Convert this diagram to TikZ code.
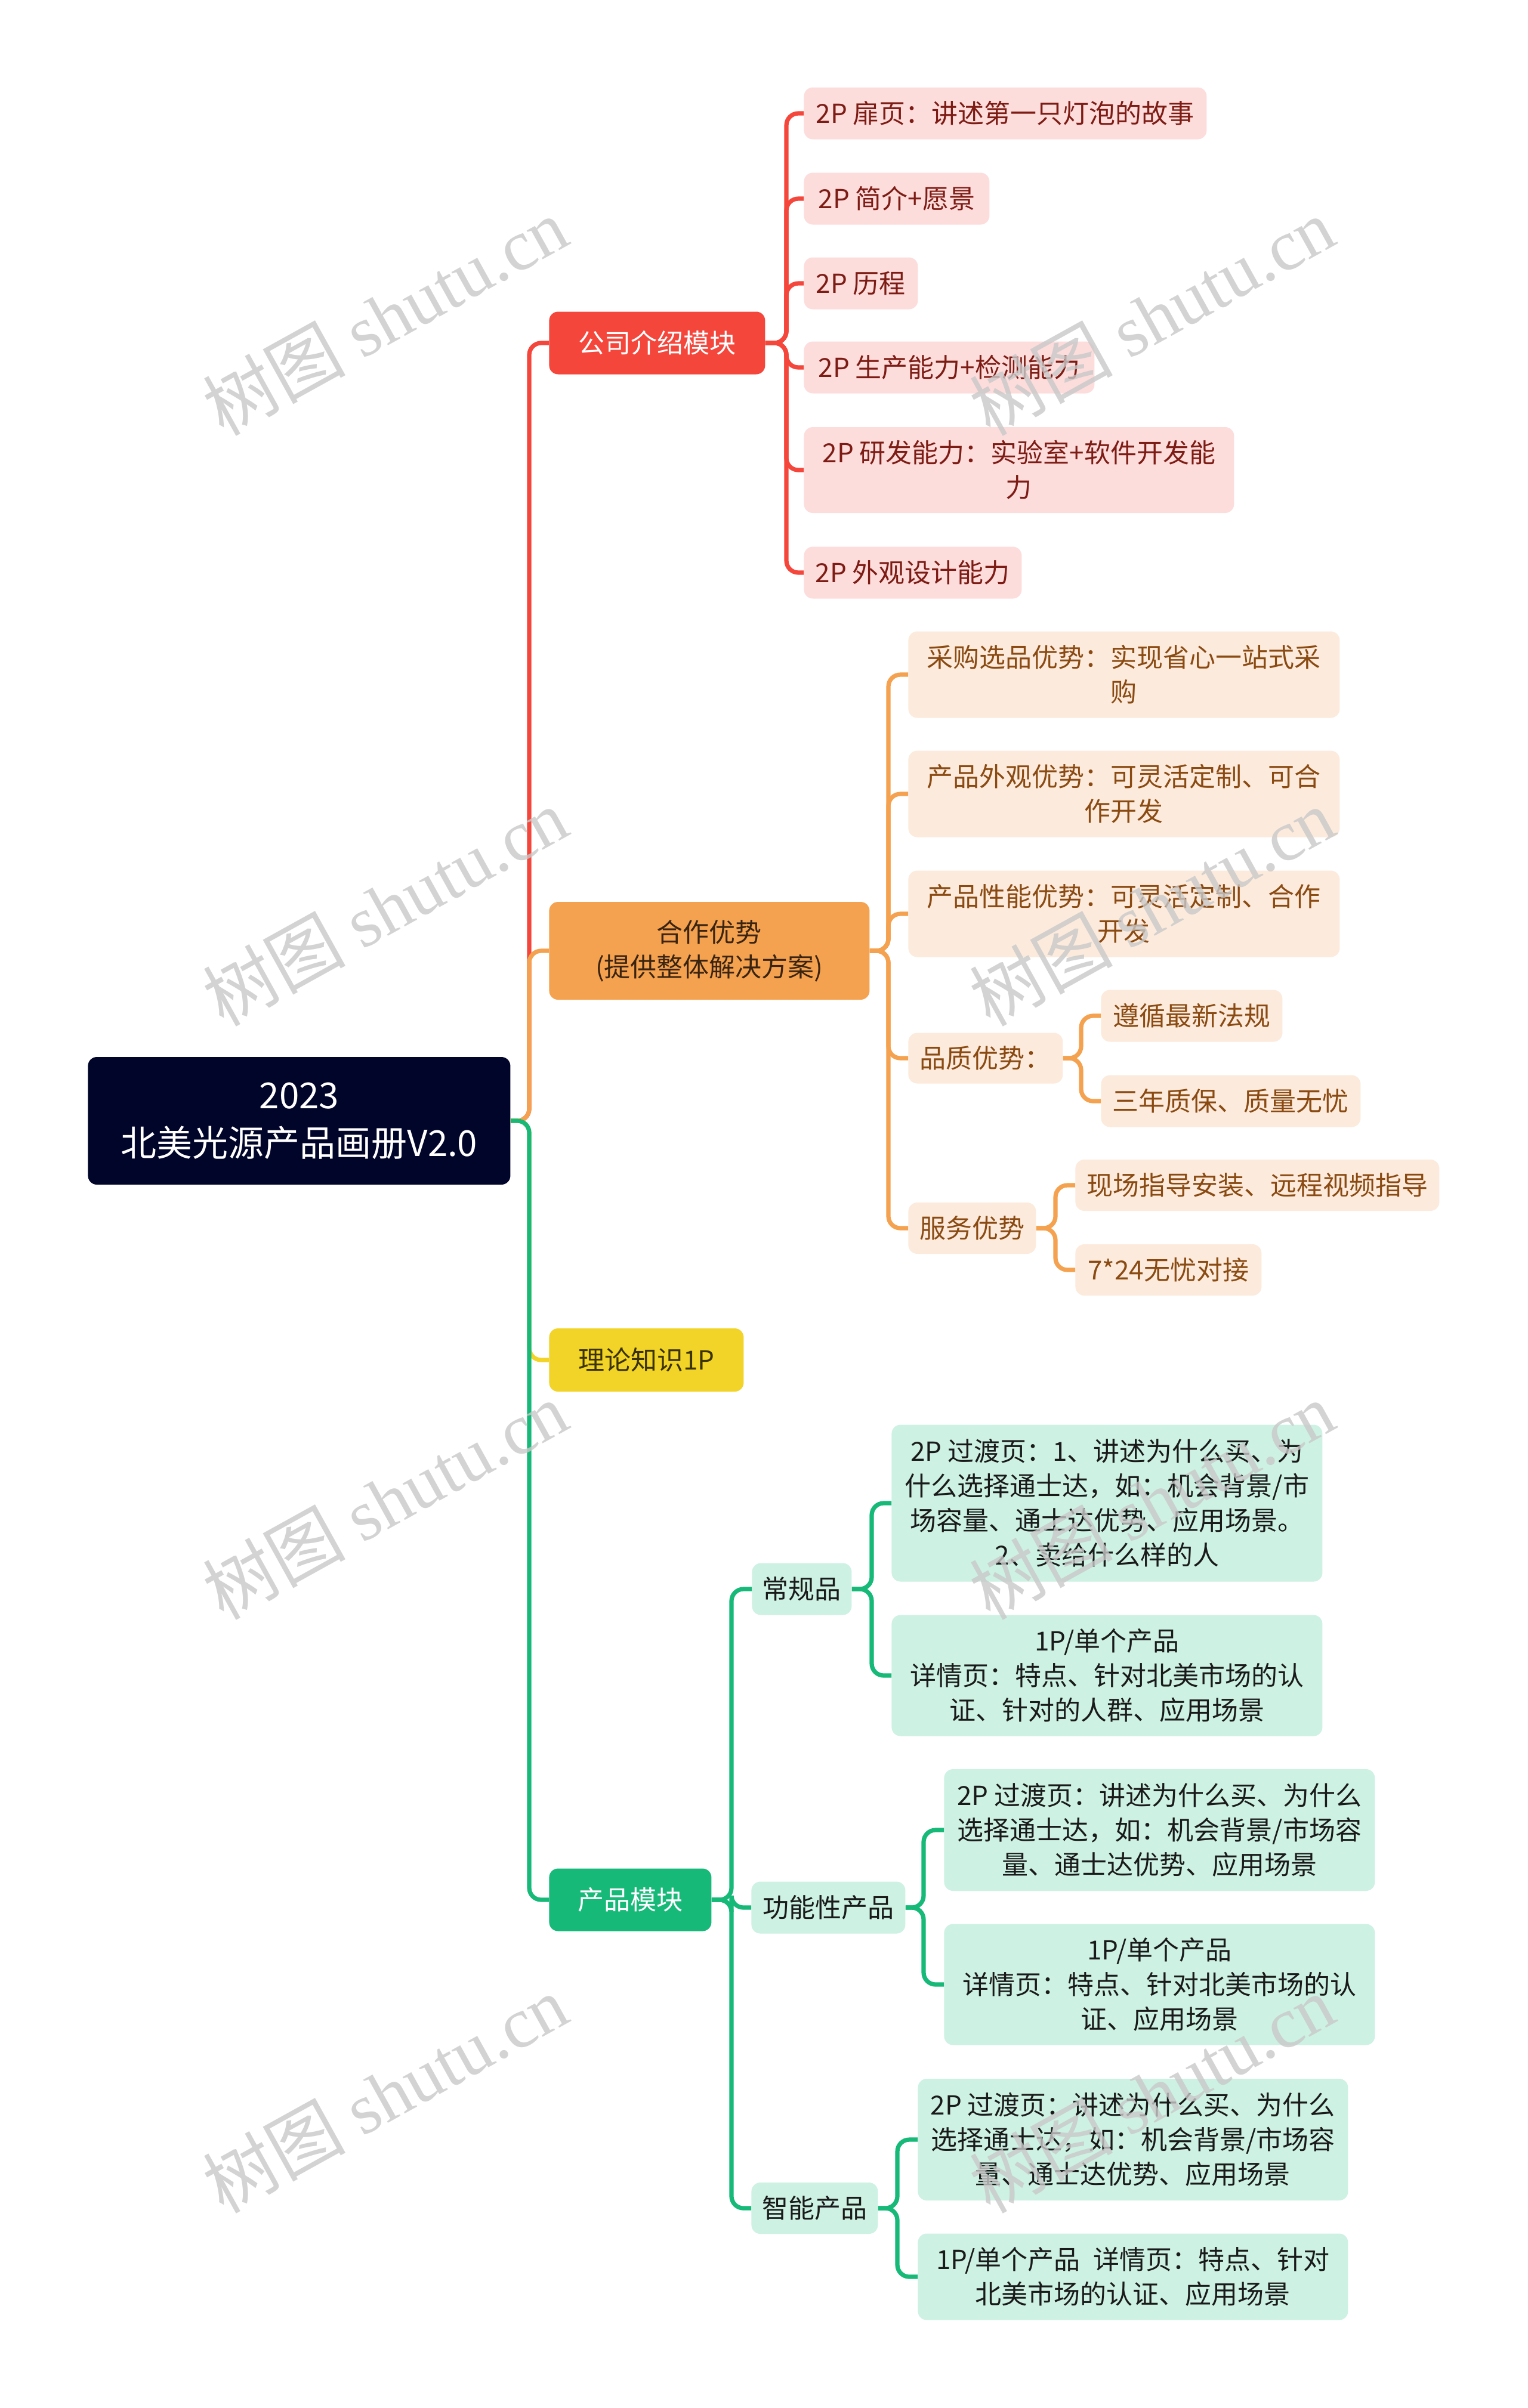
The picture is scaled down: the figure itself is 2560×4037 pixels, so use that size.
\documentclass[tikz,border=0pt]{standalone}
\usepackage{fontspec}
\setmainfont{Noto Sans CJK SC}
\newfontfamily\wmlatin{Liberation Serif}
\definecolor{rootbg}{HTML}{02052A}
\definecolor{cRed}{HTML}{F5463C}
\definecolor{cRedL}{HTML}{FDDCDC}
\definecolor{cRedT}{HTML}{7D1C14}
\definecolor{cOr}{HTML}{F4A24F}
\definecolor{cOrL}{HTML}{FCEBDC}
\definecolor{cOrT}{HTML}{8A4A12}
\definecolor{cOrDark}{HTML}{3A2410}
\definecolor{cYel}{HTML}{F2D327}
\definecolor{cYelT}{HTML}{3A3300}
\definecolor{cGr}{HTML}{17B978}
\definecolor{cGrL}{HTML}{CDF1E3}
\definecolor{cGrT}{HTML}{1A1A1A}
\definecolor{wmc}{RGB}{200,200,200}
\begin{document}
\begin{tikzpicture}[x=0.5pt,y=-0.5pt,
  box/.style={rounded corners=7.5pt, inner sep=0pt, align=center, anchor=west,
    font=\fontsize{22pt}{29pt}\selectfont},
  rootbox/.style={box, fill=rootbg, text=white, font=\fontsize{30pt}{40pt}\selectfont,
    minimum width=354pt, minimum height=107pt},
  redmain/.style={box, fill=cRed, text=white},
  redsub/.style={box, fill=cRedL, text=cRedT, minimum height=43.5pt},
  ormain/.style={box, fill=cOr, text=cOrDark},
  orsub/.style={box, fill=cOrL, text=cOrT, minimum height=43.5pt},
  yelmain/.style={box, fill=cYel, text=cYelT},
  grmain/.style={box, fill=cGr, text=white},
  grsub/.style={box, fill=cGrL, text=cGrT, minimum height=43.5pt},
  conn/.style={line width=3.6pt, rounded corners=10pt},
  wmark/.style={text=wmc, opacity=0.8, font=\fontsize{60pt}{60pt}\selectfont, rotate=29}
]
\useasboundingbox (0,0) rectangle (2560,4037);
\fill[white] (0,0) rectangle (2560,4037);

% root
\node[rootbox] (root) at (147,1879) {2023\\北美光源产品画册V2.0};

% level 1
\node[redmain, minimum width=181pt, minimum height=52.5pt] (a) at (920,575) {公司介绍模块};
\node[ormain, minimum width=268.5pt, minimum height=82pt] (b) at (920,1594) {合作优势\\(提供整体解决方案)};
\node[yelmain, minimum width=163pt, minimum height=53pt] (c) at (920,2280) {理论知识1P};
\node[grmain, minimum width=136pt, minimum height=52.5pt] (d) at (920,3185) {产品模块};

% red children
\node[redsub, minimum width=337.5pt] (a1) at (1347,190) {2P 扉页：讲述第一只灯泡的故事};
\node[redsub, minimum width=155.5pt] (a2) at (1347,333) {2P 简介+愿景};
\node[redsub, minimum width=95.5pt] (a3) at (1347,475) {2P 历程};
\node[redsub, minimum width=243.5pt] (a4) at (1347,616) {2P 生产能力+检测能力};
\node[redsub, minimum width=360.5pt, minimum height=72pt] (a5) at (1347,788) {2P 研发能力：实验室+软件开发能\\力};
\node[redsub, minimum width=182.5pt] (a6) at (1347,960) {2P 外观设计能力};

% orange children
\node[orsub, minimum width=361.5pt, minimum height=72.5pt] (b1) at (1522,1131) {采购选品优势：实现省心一站式采\\购};
\node[orsub, minimum width=361.5pt, minimum height=72.5pt] (b2) at (1522,1331) {产品外观优势：可灵活定制、可合\\作开发};
\node[orsub, minimum width=361.5pt, minimum height=72.5pt] (b3) at (1522,1532) {产品性能优势：可灵活定制、合作\\开发};
\node[orsub, minimum width=129.5pt, minimum height=42.5pt] (b4) at (1522,1774) {品质优势：};
\node[orsub, minimum width=152pt] (b41) at (1845,1703) {遵循最新法规};
\node[orsub, minimum width=217.5pt] (b42) at (1845,1846) {三年质保、质量无忧};
\node[orsub, minimum width=107pt, minimum height=43pt] (b5) at (1522,2059) {服务优势};
\node[orsub, minimum width=305pt, minimum height=43pt] (b51) at (1802,1987) {现场指导安装、远程视频指导};
\node[orsub, minimum width=156pt, minimum height=43pt] (b52) at (1802,2129) {7*24无忧对接};

% green children
\node[grsub, minimum width=83.5pt] (d1) at (1260,2664) {常规品};
\node[grsub, minimum width=361pt, minimum height=131.5pt] (d11) at (1494,2520) {2P 过渡页：1、讲述为什么买、为\\什么选择通士达，如：机会背景/市\\场容量、通士达优势、应用场景。\\2、卖给什么样的人};
\node[grsub, minimum width=361pt, minimum height=101.5pt] (d12) at (1494,2809) {1P/单个产品\\详情页：特点、针对北美市场的认\\证、针对的人群、应用场景};
\node[grsub, minimum width=129pt] (d2) at (1259,3198) {功能性产品};
\node[grsub, minimum width=361pt, minimum height=102pt] (d21) at (1582,3068) {2P 过渡页：讲述为什么买、为什么\\选择通士达，如：机会背景/市场容\\量、通士达优势、应用场景};
\node[grsub, minimum width=361pt, minimum height=101.5pt] (d22) at (1582,3327) {1P/单个产品\\详情页：特点、针对北美市场的认\\证、应用场景};
\node[grsub, minimum width=106pt, minimum height=43pt] (d3) at (1259,3702) {智能产品};
\node[grsub, minimum width=360.5pt, minimum height=102pt] (d31) at (1538,3587) {2P 过渡页：讲述为什么买、为什么\\选择通士达，如：机会背景/市场容\\量、通士达优势、应用场景};
\node[grsub, minimum width=360.5pt, minimum height=72.5pt] (d32) at (1538,3817) {1P/单个产品\hspace{0.5em}详情页：特点、针对\\北美市场的认证、应用场景};

% connectors root -> level 1
\draw[conn, cRed] (root.east) -- (887,1879) -- (887,575) -- (a.west);
\draw[conn, cOr] (root.east) -- (887,1879) -- (887,1594) -- (b.west);
\draw[conn, cYel] (root.east) -- (887,1879) -- (887,2280) -- (c.west);
\draw[conn, cGr] (root.east) -- (887,1879) -- (887,3185) -- (d.west);

% red
\foreach \n/\y in {a1/190,a2/333,a3/475,a4/616,a5/788,a6/960}
  \draw[conn, cRed] (a.east) -- (1318,575) -- (1318,\y) -- (\n.west);
% orange
\foreach \n/\y in {b1/1131,b2/1331,b3/1532,b4/1774,b5/2059}
  \draw[conn, cOr] (b.east) -- (1489,1594) -- (1489,\y) -- (\n.west);
\foreach \n/\y in {b41/1703,b42/1846}
  \draw[conn, cOr] (b4.east) -- (1812,1774) -- (1812,\y) -- (\n.west);
\foreach \n/\y in {b51/1987,b52/2129}
  \draw[conn, cOr] (b5.east) -- (1769,2059) -- (1769,\y) -- (\n.west);
% green
\foreach \n/\y in {d1/2664,d2/3198,d3/3702}
  \draw[conn, cGr] (d.east) -- (1226,3185) -- (1226,\y) -- (\n.west);
\foreach \n/\y in {d11/2520,d12/2809}
  \draw[conn, cGr] (d1.east) -- (1461,2664) -- (1461,\y) -- (\n.west);
\foreach \n/\y in {d21/3068,d22/3327}
  \draw[conn, cGr] (d2.east) -- (1548,3198) -- (1548,\y) -- (\n.west);
\foreach \n/\y in {d31/3587,d32/3817}
  \draw[conn, cGr] (d3.east) -- (1504,3702) -- (1504,\y) -- (\n.west);

% watermarks
\foreach \i/\x/\y in {1/645/530,2/1930/530,3/645/1520,4/1930/1520,5/645/2515,6/1930/2515,7/645/3510,8/1930/3510}
  \node[wmark] (wm\i) at (\x,\y) {树图 {\wmlatin shutu.cn}};
\end{tikzpicture}
\end{document}
